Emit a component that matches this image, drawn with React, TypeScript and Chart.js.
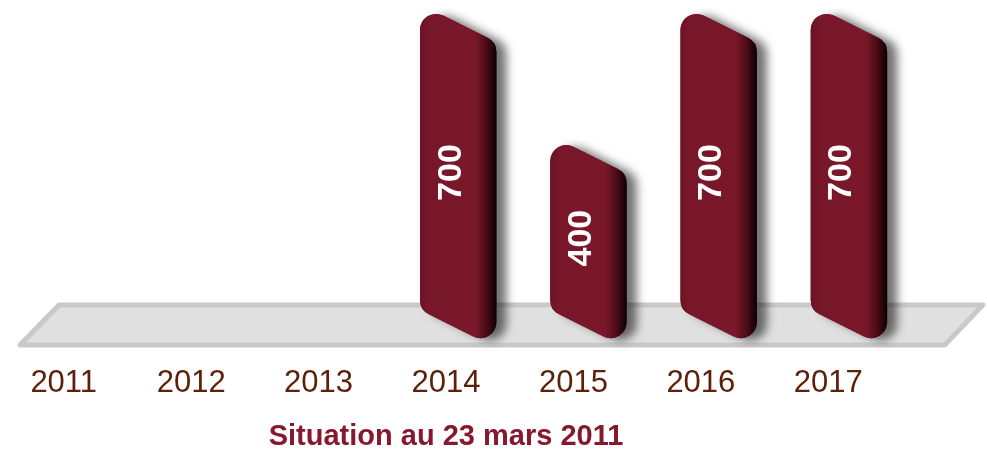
import React, { useEffect, useRef } from "react";
import { Chart, registerables } from "chart.js";

Chart.register(...registerables);

const categories: string[] = ["2011", "2012", "2013", "2014", "2015", "2016", "2017"];
const values: (number | null)[] = [null, null, null, 700, 400, 700, 700];
const yMax = 700;
const titleText = "Situation au 23 mars 2011";

const FONT = "'Liberation Sans', Arial, sans-serif";

function roundedPoly(ctx: CanvasRenderingContext2D, pts: [number, number][], r: number) {
  const n = pts.length;
  const m0: [number, number] = [(pts[0][0] + pts[1][0]) / 2, (pts[0][1] + pts[1][1]) / 2];
  ctx.beginPath();
  ctx.moveTo(m0[0], m0[1]);
  for (let i = 1; i <= n; i++) {
    const p = pts[i % n];
    const q = pts[(i + 1) % n];
    ctx.arcTo(p[0], p[1], q[0], q[1], r);
  }
  ctx.closePath();
}

const barPlugin = {
  id: "fancyBars",
  beforeDatasetsDraw(chart: any) {
    const { ctx, chartArea } = chart;
    const base = chartArea.bottom;
    const l = chartArea.left;
    const r = chartArea.right;
    ctx.save();
    ctx.beginPath();
    ctx.moveTo(l + 20, base + 35);
    ctx.lineTo(l + 59, base - 5);
    ctx.lineTo(r + 91, base - 5);
    ctx.lineTo(r + 53, base + 35);
    ctx.closePath();
    ctx.fillStyle = "#E0E0E0";
    ctx.fill();
    ctx.lineJoin = "round";
    ctx.lineWidth = 5;
    ctx.strokeStyle = "#C9C9C9";
    ctx.stroke();
    ctx.restore();
  },
  afterDatasetsDraw(chart: any) {
    const { ctx, chartArea } = chart;
    const meta = chart.getDatasetMeta(0);
    const cx = (chartArea.left + chartArea.right) / 2;
    const catW = (chartArea.right - chartArea.left) / categories.length;
    const W = catW * 0.6;
    const dy = W * 0.5;
    meta.data.forEach((el: any, i: number) => {
      const v = values[i];
      if (v === null || v === undefined) return;
      const x = el.x;
      const L = x + 0.022 * (x - cx) - catW * 0.204;
      const yTop = el.y;
      const yBase = el.base;
      const pts: [number, number][] = [
        [L, yTop],
        [L + W, yTop + dy],
        [L + W, yBase + dy],
        [L, yBase],
      ];
      // shadow
      ctx.save();
      ctx.shadowColor = "rgba(0,0,0,0.55)";
      ctx.shadowBlur = 10;
      ctx.shadowOffsetX = 10;
      ctx.shadowOffsetY = 2;
      roundedPoly(ctx, pts, 16);
      ctx.fillStyle = "#7a1829";
      ctx.fill();
      ctx.restore();
      // body gradient
      ctx.save();
      const g = ctx.createLinearGradient(L, 0, L + W, 0);
      g.addColorStop(0, "#6c1323");
      g.addColorStop(0.12, "#78172a");
      g.addColorStop(0.72, "#7a1829");
      g.addColorStop(0.86, "#4e0c18");
      g.addColorStop(1, "#0c0002");
      roundedPoly(ctx, pts, 16);
      ctx.fillStyle = g;
      ctx.fill();
      ctx.restore();
      // label
      const tx = L + W / 2 - 7;
      const ty = (yTop + yBase) / 2 + (tx - L) * 0.5;
      ctx.save();
      ctx.translate(tx, ty);
      ctx.rotate(-Math.PI / 2);
      ctx.fillStyle = "#ffffff";
      ctx.font = `bold 34px ${FONT}`;
      ctx.textAlign = "center";
      ctx.textBaseline = "middle";
      ctx.fillText(String(v), 0, 0);
      ctx.restore();
    });
  },
};

export default function App() {
  const ref = useRef<HTMLCanvasElement | null>(null);
  useEffect(() => {
    document.body.style.margin = "0";
    if (!ref.current) return;
    const chart = new Chart(ref.current, {
      type: "bar",
      data: {
        labels: categories,
        datasets: [
          {
            data: values as any,
            backgroundColor: "rgba(0,0,0,0)",
            borderWidth: 0,
          },
        ],
      },
      options: {
        responsive: false,
        animation: false,
        layout: { padding: { top: 4, left: 0, right: 95, bottom: 0 } },
        plugins: {
          legend: { display: false },
          tooltip: { enabled: false },
          title: {
            display: true,
            position: "bottom",
            fullSize: false,
            text: titleText,
            color: "#87192E",
            font: { size: 29, weight: "bold", family: FONT, lineHeight: 1.1 },
            padding: { top: 15, bottom: 0 },
          },
        },
        scales: {
          x: {
            grid: { display: false, drawTicks: true, tickLength: 51 },
            border: { display: false },
            ticks: {
              color: "#5C2108",
              font: { size: 31, family: FONT },
              padding: 4,
              maxRotation: 0,
              autoSkip: false,
            },
          },
          y: { display: false, min: 0, max: yMax },
        },
      },
      plugins: [barPlugin],
    });
    return () => chart.destroy();
  }, []);
  return (
    <div style={{ width: 987, height: 453 }}>
      <canvas ref={ref} width={987} height={453} style={{ display: "block" }} />
    </div>
  );
}
